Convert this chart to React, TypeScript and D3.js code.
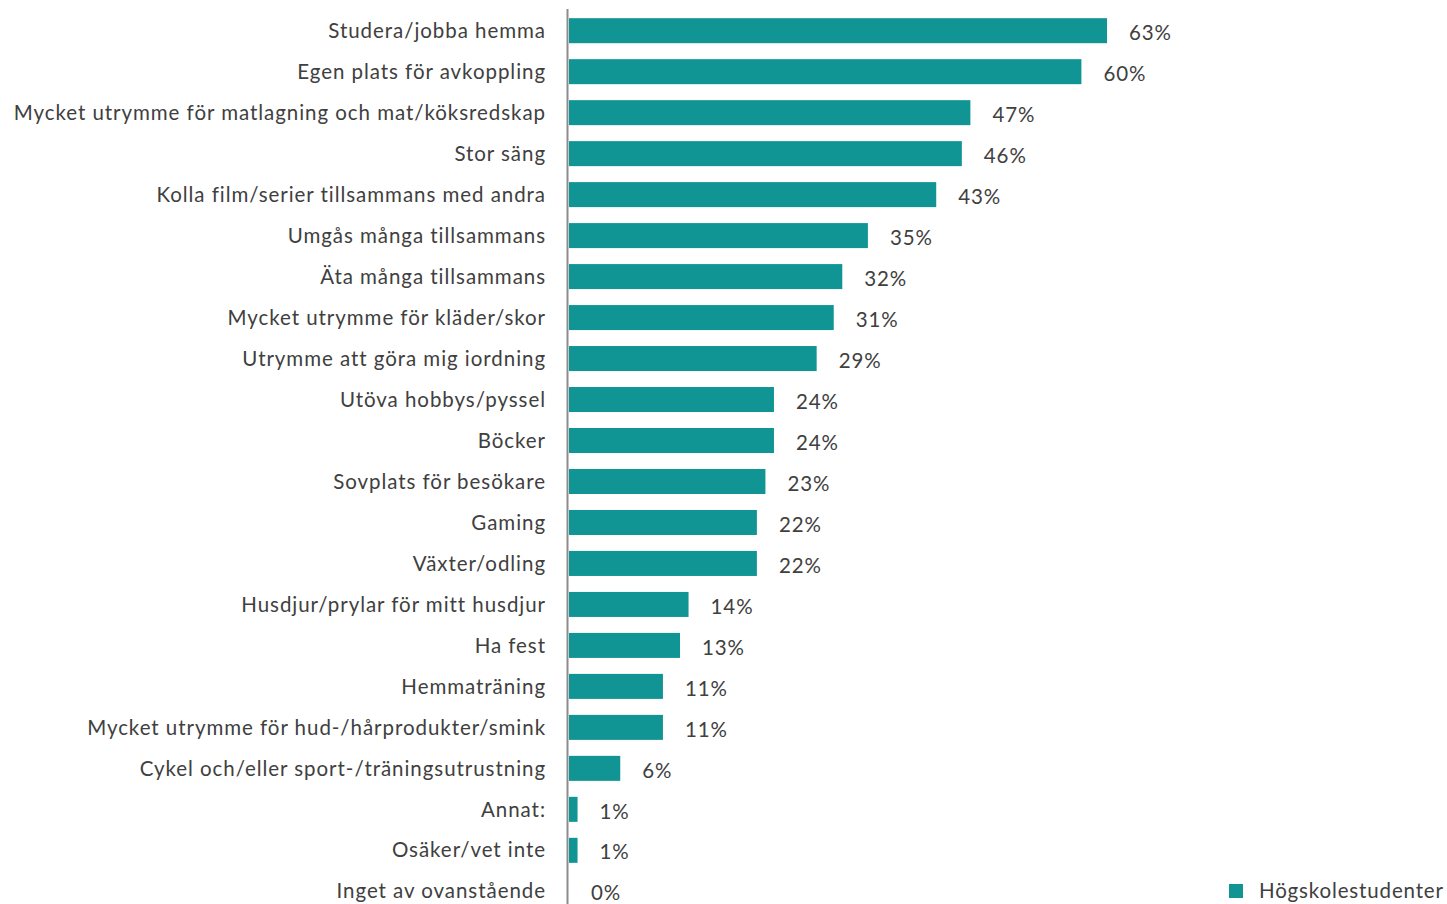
import React from 'react';
import * as d3 from 'd3';

const categories = [
  'Studera/jobba hemma',
  'Egen plats för avkoppling',
  'Mycket utrymme för matlagning och mat/köksredskap',
  'Stor säng',
  'Kolla film/serier tillsammans med andra',
  'Umgås många tillsammans',
  'Äta många tillsammans',
  'Mycket utrymme för kläder/skor',
  'Utrymme att göra mig iordning',
  'Utöva hobbys/pyssel',
  'Böcker',
  'Sovplats för besökare',
  'Gaming',
  'Växter/odling',
  'Husdjur/prylar för mitt husdjur',
  'Ha fest',
  'Hemmaträning',
  'Mycket utrymme för hud-/hårprodukter/smink',
  'Cykel och/eller sport-/träningsutrustning',
  'Annat:',
  'Osäker/vet inte',
  'Inget av ovanstående',
];
const values = [63, 60, 47, 46, 43, 35, 32, 31, 29, 24, 24, 23, 22, 22, 14, 13, 11, 11, 6, 1, 1, 0];
const seriesName = 'Högskolestudenter';

const W = 1447;
const H = 904;
const FONT = 'Lato, "Open Sans", sans-serif';
const TEAL = '#109494';
const TEXT = '#404040';

export default function App() {
  const x = d3.scaleLinear([0, 100], [569, 569 + 854]);
  const y = d3.scaleBand<string>(categories, [10, 10 + 41 * categories.length]).paddingInner(0.39).paddingOuter(0.2);

  return (
    <svg width={W} height={H} style={{ position: 'absolute', left: 0, top: 0 }} fontFamily={FONT}>
      {categories.map((c, i) => {
        const cy = (y(c) ?? 0) + y.bandwidth() / 2;
        return (
          <g key={c}>
            <rect x={x(0)} y={y(c)} width={x(values[i]) - x(0)} height={y.bandwidth()} fill={TEAL} />
            <text x={546} y={cy} dy="0.35em" textAnchor="end" fontSize={20.5} letterSpacing={0.95} fill={TEXT}>
              {c}
            </text>
            <text x={x(values[i]) + 22} y={cy + 2} dy="0.35em" fontSize={20.5} letterSpacing={0.9} fill={TEXT}>
              {values[i]}%
            </text>
          </g>
        );
      })}
      <line x1={567.5} x2={567.5} y1={9} y2={H} stroke="#8c8c8c" strokeWidth={2} />
      <rect x={1229} y={884} width={14} height={14} fill={TEAL} />
      <text x={1259} y={891} dy="0.35em" fontSize={20.5} letterSpacing={0.85} fill={TEXT}>
        {seriesName}
      </text>
    </svg>
  );
}
